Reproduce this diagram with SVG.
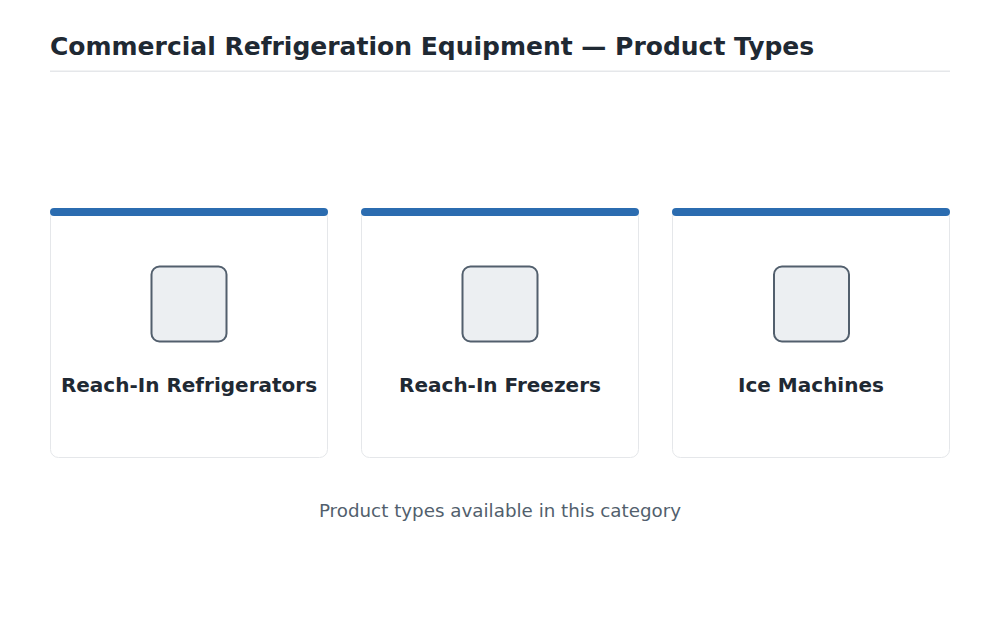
<svg xmlns="http://www.w3.org/2000/svg" width="1000" height="634" viewBox="0 0 1000 634">
<style>
.card{fill:#fff;stroke:#e5e7ea;stroke-width:1}
.bar{fill:#2b6cb0}
.icon{fill:#eceff2;stroke:#525f6d;stroke-width:2}
.lbl{font-family:"DejaVu Sans",sans-serif;font-size:20px;font-weight:bold;fill:#1f2933;text-anchor:middle}
</style>
<rect width="1000" height="634" fill="#fff"/>
<text x="50" y="55" font-family="DejaVu Sans,sans-serif" font-size="25" font-weight="bold" fill="#1f2933">Commercial Refrigeration Equipment — Product Types</text>
<rect x="50" y="70.5" width="900" height="1.5" fill="#e5e7ea"/>
<g id="n1"><rect class="card" x="50.5" y="209.5" width="277" height="248" rx="8"/><rect class="bar" x="50" y="208" width="278" height="8" rx="4"/><rect class="icon" x="151.5" y="266.5" width="75" height="75" rx="8"/><text class="lbl" x="189" y="392">Reach-In Refrigerators</text></g>
<g id="n2"><rect class="card" x="361.5" y="209.5" width="277" height="248" rx="8"/><rect class="bar" x="361" y="208" width="278" height="8" rx="4"/><rect class="icon" x="462.5" y="266.5" width="75" height="75" rx="8"/><text class="lbl" x="500" y="392">Reach-In Freezers</text></g>
<g id="n3"><rect class="card" x="672.5" y="209.5" width="277" height="248" rx="8"/><rect class="bar" x="672" y="208" width="278" height="8" rx="4"/><rect class="icon" x="774" y="266.5" width="75" height="75" rx="8"/><text class="lbl" x="811" y="392">Ice Machines</text></g>
<g id="connectors"/>
<text x="500" y="517" font-family="DejaVu Sans,sans-serif" font-size="18.3" fill="#525f6d" text-anchor="middle">Product types available in this category</text>
</svg>
